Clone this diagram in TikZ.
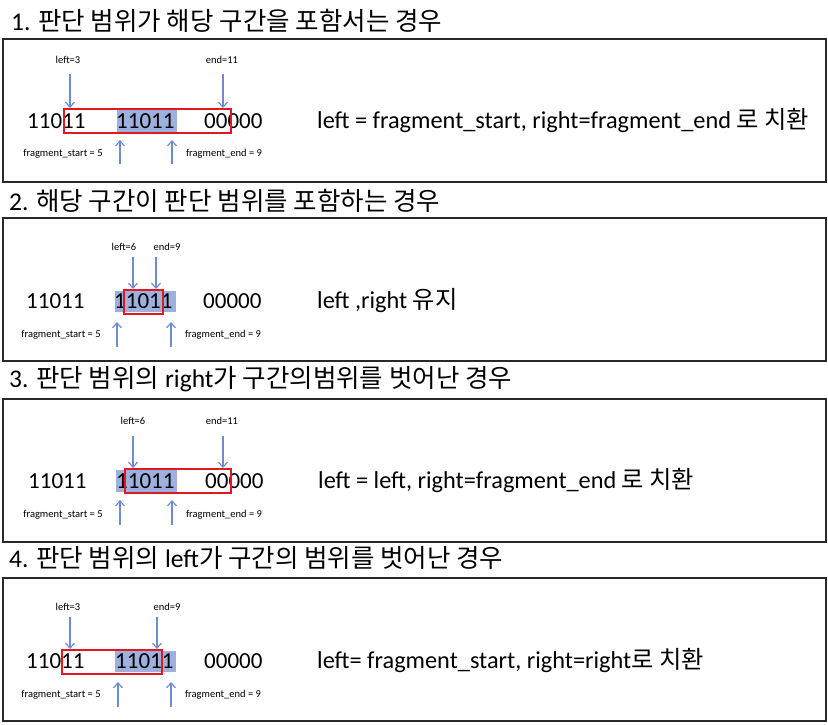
\documentclass[tikz,border=0pt]{standalone}
\usepackage{fontspec}
\setmainfont{Carlito}
\newfontfamily\kr{Noto Sans CJK KR}
\usetikzlibrary{arrows.meta}
\definecolor{hlblue}{RGB}{157,176,222}
\definecolor{arrblue}{RGB}{110,140,210}
\definecolor{redline}{RGB}{225,25,30}
\definecolor{frame}{RGB}{40,40,40}
\tikzset{
  panel/.style={draw=frame,line width=1.7pt},
  hl/.style={fill=hlblue,draw=none},
  redbox/.style={draw=redline,line width=1.8pt},
  small/.style={font=\fontsize{10.5}{12}\selectfont,inner sep=0pt},
  digits/.style={font=\fontsize{23}{26}\selectfont,anchor=base west,inner sep=0pt},
  note/.style={font=\fontsize{24.3}{28}\selectfont,anchor=base west,inner sep=0pt},
  ttl/.style={font=\fontsize{25.5}{30}\selectfont,anchor=base west,inner sep=0pt},
  arr/.style={draw=arrblue,line width=1.2pt,-{Straight Barb[length=5pt,width=9pt,line width=1.2pt]}}
}
\begin{document}
\begin{tikzpicture}[x=1pt,y=-1pt]
\useasboundingbox (0,0) rectangle (828,724);
\fill[white] (0,0) rectangle (828,724);

% ---------- Panel 1 ----------
\node[ttl] (t1) at (11,30) {1. {\kr 판단 범위가 해당 구간을 포함서는 경우}};
\draw[panel] (3,39) rectangle (826,182);
\fill[hl] (117,109) rectangle (177,132);
\node[digits] (p1a) at (27,128) {11011};
\node[digits] (p1b) at (116,128) {11011};
\node[digits] (p1c) at (204,128) {00000};
\draw[redbox] (64,109) rectangle (231,133);
\node[small] (p1l) at (68,60) {left=3};
\node[small] (p1e) at (222,60) {end=11};
\node[small] (p1fs) at (63,154) {fragment\_start = 5};
\node[small] (p1fe) at (224,154) {fragment\_end = 9};
\coordinate (p1la) at (70,74); \coordinate (p1lb) at (70,108);
\coordinate (p1ea) at (223,74); \coordinate (p1eb) at (223,108);
\coordinate (p1sa) at (120,164); \coordinate (p1sb) at (120,140);
\coordinate (p1fa) at (172,164); \coordinate (p1fb) at (172,140);
\draw[arr] (p1la) -- (p1lb);
\draw[arr] (p1ea) -- (p1eb);
\draw[arr] (p1sa) -- (p1sb);
\draw[arr] (p1fa) -- (p1fb);
\node[note] (p1n) at (317,128) {left = fragment\_start, right=fragment\_end {\kr 로 치환}};

% ---------- Panel 2 ----------
\node[ttl] (t2) at (9,210) {2. {\kr 해당 구간이 판단 범위를 포함하는 경우}};
\draw[panel] (3,218) rectangle (826,361);
\fill[hl] (115,291) rectangle (176,312);
\node[digits] (p2a) at (26,308) {11011};
\node[digits] (p2b) at (114,308) {11011};
\node[digits] (p2c) at (203,308) {00000};
\draw[redbox] (124,290) rectangle (163,314);
\node[small] (p2l) at (124,247) {left=6};
\node[small] (p2e) at (167,247) {end=9};
\node[small] (p2fs) at (61,335) {fragment\_start = 5};
\node[small] (p2fe) at (223,335) {fragment\_end = 9};
\coordinate (p2la) at (133,257); \coordinate (p2lb) at (133,289);
\coordinate (p2ea) at (156,257); \coordinate (p2eb) at (156,289);
\coordinate (p2sa) at (117,347); \coordinate (p2sb) at (117,322);
\coordinate (p2fa) at (171,347); \coordinate (p2fb) at (171,322);
\draw[arr] (p2la) -- (p2lb);
\draw[arr] (p2ea) -- (p2eb);
\draw[arr] (p2sa) -- (p2sb);
\draw[arr] (p2fa) -- (p2fb);
\node[note] (p2n) at (317,308) {left ,right {\kr 유지}};

% ---------- Panel 3 ----------
\node[ttl] (t3) at (9,387) {3. {\kr 판단 범위의} right{\kr 가 구간의범위를 벗어난 경우}};
\draw[panel] (3,399) rectangle (826,542);
\fill[hl] (116,470) rectangle (177,492);
\node[digits] (p3a) at (28,488) {11011};
\node[digits] (p3b) at (116,488) {11011};
\node[digits] (p3c) at (205,488) {00000};
\draw[redbox] (125,469) rectangle (231,493);
\node[small] (p3l) at (133,421) {left=6};
\node[small] (p3e) at (222,421) {end=11};
\node[small] (p3fs) at (63,515) {fragment\_start = 5};
\node[small] (p3fe) at (224,515) {fragment\_end = 9};
\coordinate (p3la) at (133,436); \coordinate (p3lb) at (133,468);
\coordinate (p3ea) at (223,436); \coordinate (p3eb) at (223,468);
\coordinate (p3sa) at (120,525); \coordinate (p3sb) at (120,500);
\coordinate (p3fa) at (172,525); \coordinate (p3fb) at (172,500);
\draw[arr] (p3la) -- (p3lb);
\draw[arr] (p3ea) -- (p3eb);
\draw[arr] (p3sa) -- (p3sb);
\draw[arr] (p3fa) -- (p3fb);
\node[note] (p3n) at (318,488) {left = left, right=fragment\_end {\kr 로 치환}};

% ---------- Panel 4 ----------
\node[ttl] (t4) at (9,567) {4. {\kr 판단 범위의} left{\kr 가 구간의 범위를 벗어난 경우}};
\draw[panel] (3,578) rectangle (826,721);
\fill[hl] (115,651) rectangle (176,672);
\node[digits] (p4a) at (26,668) {11011};
\node[digits] (p4b) at (115,668) {11011};
\node[digits] (p4c) at (204,668) {00000};
\draw[redbox] (62,650) rectangle (162,674);
\node[small] (p4l) at (68,607) {left=3};
\node[small] (p4e) at (167,607) {end=9};
\node[small] (p4fs) at (61,695) {fragment\_start = 5};
\node[small] (p4fe) at (223,695) {fragment\_end = 9};
\coordinate (p4la) at (70,617); \coordinate (p4lb) at (70,649);
\coordinate (p4ea) at (157,617); \coordinate (p4eb) at (157,649);
\coordinate (p4sa) at (118,707); \coordinate (p4sb) at (118,682);
\coordinate (p4fa) at (171,707); \coordinate (p4fb) at (171,682);
\draw[arr] (p4la) -- (p4lb);
\draw[arr] (p4ea) -- (p4eb);
\draw[arr] (p4sa) -- (p4sb);
\draw[arr] (p4fa) -- (p4fb);
\node[note] (p4n) at (317,668) {left= fragment\_start, right=right{\kr 로 치환}};
\end{tikzpicture}
\end{document}
